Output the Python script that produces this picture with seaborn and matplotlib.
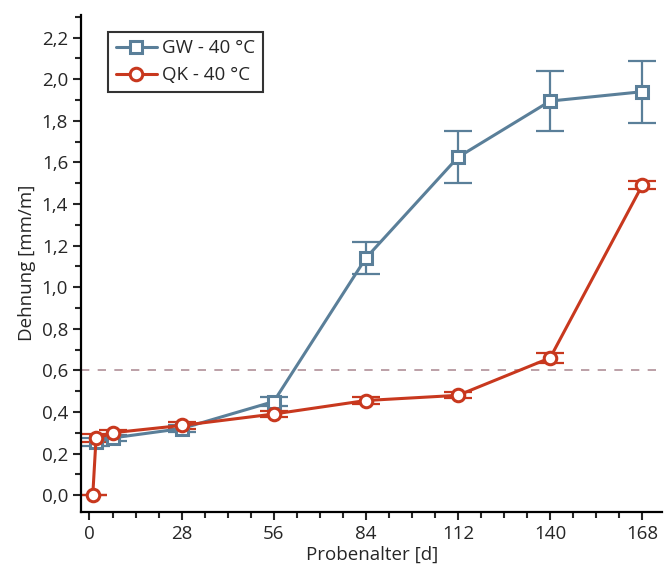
import numpy as np
import pandas as pd
import seaborn as sns
import matplotlib.pyplot as plt
from matplotlib.ticker import MultipleLocator, FuncFormatter

gw_tage = [2, 7, 28, 56, 84, 112, 140, 168]
gw_dehnung = [0.255, 0.275, 0.32, 0.45, 1.14, 1.625, 1.895, 1.94]
gw_fehler = [0.02, 0.015, 0.015, 0.02, 0.075, 0.125, 0.145, 0.15]

qk_tage = [1, 2, 7, 28, 56, 84, 112, 140, 168]
qk_dehnung = [0.0, 0.275, 0.30, 0.335, 0.39, 0.455, 0.48, 0.66, 1.49]
qk_fehler = [0.0, 0.02, 0.015, 0.015, 0.015, 0.015, 0.015, 0.025, 0.02]

grenzwert = 0.6
x_ticks = [0, 28, 56, 84, 112, 140, 168]

blau = '#5a7f99'
rot = '#c8381e'

sns.set_style('ticks')
plt.rcParams['font.family'] = ['Open Sans', 'DejaVu Sans']

df = pd.concat([
    pd.DataFrame({'Probenalter': gw_tage, 'Dehnung': gw_dehnung, 'Serie': 'GW - 40 °C'}),
    pd.DataFrame({'Probenalter': qk_tage, 'Dehnung': qk_dehnung, 'Serie': 'QK - 40 °C'}),
])

fig = plt.figure(figsize=(6.66, 5.68), dpi=100)
ax = fig.add_axes([0.122, 0.099, 0.872, 0.875])

ax.axhline(grenzwert, color='#b09098', ls=(0, (5, 5)), lw=1.2, zorder=1)

ax.errorbar(gw_tage, gw_dehnung, yerr=gw_fehler, fmt='none', ecolor=blau,
            elinewidth=1.6, capsize=10, capthick=1.6, zorder=2)
ax.errorbar(qk_tage, qk_dehnung, yerr=qk_fehler, fmt='none', ecolor=rot,
            elinewidth=1.6, capsize=10, capthick=1.6, zorder=2)

sns.lineplot(data=df, x='Probenalter', y='Dehnung', hue='Serie', style='Serie',
             palette=[blau, rot], markers=['s', 'o'], dashes=False,
             markersize=9, markeredgewidth=2.2,
             linewidth=2.2, ax=ax, zorder=3)
for line in ax.lines:
    if line.get_marker() in ('s', 'o'):
        c = line.get_color()
        line.set_markerfacecolor('white')
        line.set_markeredgecolor(c)

ax.set_xlim(-2.5, 174)
ax.set_ylim(-0.08, 2.31)
ax.set_xticks(x_ticks)
ax.xaxis.set_minor_locator(MultipleLocator(7))
ax.yaxis.set_major_locator(MultipleLocator(0.2))
ax.yaxis.set_minor_locator(MultipleLocator(0.1))
ax.yaxis.set_major_formatter(FuncFormatter(lambda v, p: f'{v:.1f}'.replace('.', ',')))
ax.tick_params(which='major', length=6, width=1.5, labelsize=13.5, direction='out')
ax.tick_params(which='minor', length=4, width=1.5, direction='out')
for s in ['left', 'bottom']:
    ax.spines[s].set_linewidth(1.6)
    ax.spines[s].set_color('black')
sns.despine(ax=ax)

ax.set_xlabel('Probenalter [d]', fontsize=13.5, labelpad=2)
ax.set_ylabel('Dehnung [mm/m]', fontsize=13.5, labelpad=4)

leg = ax.legend(loc='upper left', bbox_to_anchor=(0.03, 0.985), fontsize=13.5,
                frameon=True, fancybox=False, edgecolor='black',
                handlelength=2.2, handletextpad=0.3, borderpad=0.4)
leg.get_frame().set_linewidth(1.5)
for h, c in zip(leg.get_lines(), [blau, rot]):
    h.set_markerfacecolor('white')
    h.set_markeredgecolor(c)

fig.savefig('out.png', dpi=100)
